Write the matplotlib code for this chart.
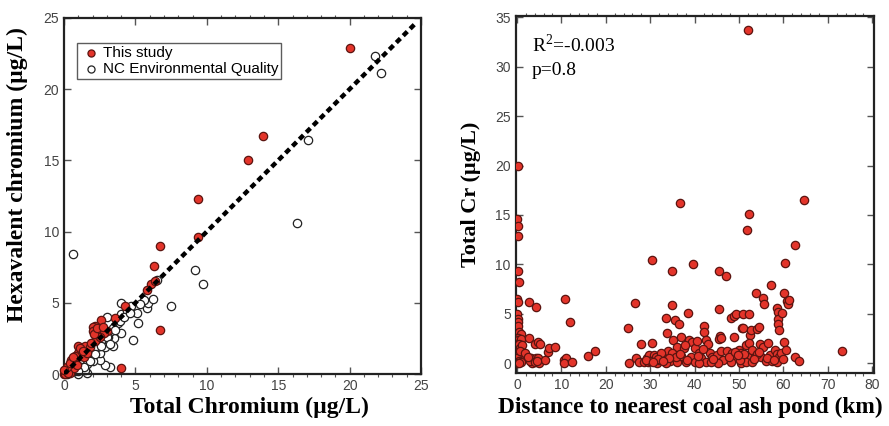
"""Chromium scatter plots: Cr(VI) vs total Cr, and total Cr vs distance."""

from matplotlib import pyplot
from matplotlib.ticker import MultipleLocator

pyplot.rcParams['mathtext.fontset'] = 'custom'
pyplot.rcParams['mathtext.rm'] = 'Liberation Serif'

# Left panel: hexavalent vs total chromium (ug/L)
study_total = [20.0, 13.9, 12.9, 9.4, 9.4, 6.7, 6.3, 6.1, 5.8, 6.4, 6.7, 4.3,
               3.6, 2.6, 2.2, 2.0, 2.0, 2.4, 4.0, 1.0, 1.5, 1.0, 0.6, 0.3, 0.1,
               0.0, 0.2, 0.5, 0.8, 1.2, 1.8, 2.2, 3.0, 2.8, 0.4, 0.7, 1.4, 0.1,
               0.3, 0.9, 1.6, 2.5, 0.2, 0.5, 0.8, 1.1, 1.3, 2.1, 2.3, 0.0, 0.4,
               0.6, 1.9, 2.7]
study_hex = [22.9, 16.7, 15.0, 12.3, 9.6, 9.0, 7.6, 6.3, 5.9, 6.5, 3.1, 4.8,
             3.9, 3.8, 3.4, 3.3, 3.0, 3.1, 0.4, 2.0, 2.0, 1.5, 1.0, 0.5, 0.3,
             0.0, 0.2, 0.7, 0.9, 1.3, 1.9, 2.3, 3.0, 2.9, 0.1, 0.4, 1.2, 0.0,
             0.1, 0.6, 1.5, 2.6, 0.5, 1.0, 1.3, 1.8, 1.6, 2.8, 3.2, 0.3, 0.8,
             1.2, 2.2, 3.3]

nc_total = [22.2, 21.8, 17.1, 16.3, 9.2, 9.7, 0.6, 7.5, 5.8, 5.9, 5.6, 6.5,
            5.2, 4.8, 5.1, 4.7, 4.0, 4.0, 4.0, 3.6, 3.5, 3.4, 3.0, 3.2, 2.9,
            2.5, 2.5, 1.6, 1.5, 1.0, 3.3, 2.8, 2.2, 1.8, 1.3, 0.9, 0.5, 2.0,
            2.7, 3.1, 1.2, 0.8, 2.4, 1.9, 0.7, 3.8, 4.4, 3.4, 3.9, 4.2, 2.6,
            2.3, 2.1, 1.7, 1.4, 1.1, 0.4, 0.3, 0.2, 1.9, 1.6, 3.0, 2.9, 4.6,
            3.6, 2.0, 1.2, 0.6, 2.6, 3.2, 0.9, 1.4, 2.2, 5.3, 6.2, 1.0, 1.8]
nc_hex = [21.1, 22.3, 16.4, 10.6, 7.3, 6.3, 8.4, 4.8, 4.6, 5.0, 5.2, 6.6,
          3.6, 2.4, 4.3, 4.8, 4.2, 5.0, 2.9, 3.4, 2.5, 2.0, 4.0, 0.5, 0.6,
          1.0, 1.5, 0.1, 0.3, 0.0, 3.0, 2.4, 2.0, 1.5, 1.0, 0.6, 0.3, 1.7,
          2.8, 2.6, 0.8, 0.2, 2.2, 1.2, 0.4, 3.6, 4.4, 3.2, 3.7, 4.0, 2.3,
          1.9, 1.8, 1.3, 1.2, 0.8, 0.2, 0.1, 0.0, 1.0, 0.7, 2.6, 1.9, 4.3,
          3.1, 0.9, 0.5, 0.3, 2.0, 2.1, 0.4, 0.5, 1.4, 4.9, 5.3, 0.2, 0.9]

# Right panel: total Cr vs distance to nearest coal ash pond (km)
distance = [0.3, 0.1, 0.2, 0.2, 0.3, 0.4, 0.1, 0.3, 0.1, 0.2, 0.2, 0.3, 0.5,
            0.8, 0.2, 0.3, 0.6, 0.9, 0.4, 0.6, 0.3, 0.8, 0.1, 0.5, 0.1, 1.0,
            0.5, 1.2, 0.7,
            2.6, 4.2, 2.7, 4.0, 4.8, 5.3, 1.8, 3.2, 3.5, 4.2, 4.8, 3.0, 4.0,
            5.0, 6.3, 7.0, 7.3, 8.5, 4.6, 2.5,
            10.8, 12.0, 10.5, 11.0, 10.7, 12.3, 16.0, 17.5,
            25.0, 26.5, 25.2, 26.8, 28.0, 27.5, 28.5, 29.5, 29.2, 29.8, 30.3,
            30.5, 30.8, 31.2, 30.0, 31.5, 32.0,
            33.5, 33.8, 34.0, 33.0, 32.5, 34.9, 34.9, 35.5, 36.5, 35.2, 36.0,
            35.0, 34.5, 36.0, 36.7, 37.0, 37.5, 37.0, 38.0, 38.5, 38.8, 39.6,
            39.5, 40.0, 39.2, 40.0, 35.8, 33.6, 34.2,
            40.5, 41.0, 41.5, 42.0, 42.0, 42.5, 43.0, 42.5, 43.5, 44.0, 44.5,
            45.0, 45.5, 45.5, 45.7, 45.5, 46.0, 46.0, 46.5, 47.0, 47.2, 45.2,
            43.8, 41.0,
            48.3, 48.8, 49.3, 48.8, 48.5, 49.5, 48.2, 50.0, 50.5, 50.6, 51.0,
            51.0, 51.5, 52.0, 50.5, 51.5, 51.7, 52.3, 52.1, 52.3, 52.5, 52.7,
            52.3, 53.0, 53.5, 53.0, 53.8, 54.0, 54.6, 54.8, 55.4, 55.7, 55.5,
            55.0, 56.0, 56.5, 57.3, 57.0, 57.5, 54.0,
            58.5, 58.8, 58.8, 58.8, 59.0, 59.6, 58.0, 58.5, 59.0, 58.6, 59.5,
            60.2, 60.1, 60.4, 60.8, 61.0, 61.3, 60.5, 62.5, 62.6, 63.5, 64.7,
            73.1,
            29.0, 31.8, 32.8, 36.8, 38.3, 40.8, 41.8, 44.2, 47.8, 49.0, 50.2,
            51.2, 53.3, 54.5, 56.3, 57.8, 59.8, 30.6, 37.8, 49.8]
total_cr = [20.0, 14.6, 13.9, 12.9, 9.3, 8.2, 6.5, 6.2, 5.0, 4.5, 4.2, 3.8,
            3.2, 3.0, 2.6, 2.4, 2.2, 2.5, 1.9, 1.5, 1.0, 0.9, 0.5, 0.2, 0.0,
            0.1, 0.0, 1.8, 1.2,
            6.2, 5.7, 2.6, 2.0, 2.2, 2.0, 1.0, 0.5, 0.0, 0.5, 0.5, 0.2, 0.1,
            0.0, 0.3, 1.1, 1.5, 1.6, 0.2, 0.6,
            6.5, 4.2, 0.3, 0.5, 0.0, 0.1, 0.7, 1.2,
            3.6, 6.1, 0.0, 0.5, 1.9, 0.1, 0.1, 0.1, 0.5, 0.8, 10.4,
            2.1, 0.8, 0.6, 0.2, 0.0, 0.3,
            4.6, 3.1, 1.2, 0.4, 1.0, 9.3, 5.9, 4.4, 4.0, 2.4, 1.6,
            1.0, 0.2, 0.1, 16.2, 2.7, 1.5, 0.7, 0.1, 5.1, 2.4, 10.0,
            2.2, 1.5, 0.6, 0.1, 0.6, 0.0, 0.5,
            2.3, 1.0, 0.5, 3.8, 3.2, 2.4, 2.0, 0.1, 1.0, 0.6, 0.2,
            0.8, 9.3, 5.5, 2.8, 2.5, 2.6, 1.2, 0.3, 8.8, 1.2, 0.0,
            0.1, 0.0,
            4.6, 4.8, 5.0, 2.7, 1.0, 0.5, 0.1, 1.3, 1.0, 3.6, 3.6,
            5.0, 1.8, 0.6, 0.0, 0.1, 13.5, 15.1, 33.7, 5.0, 2.9, 3.4,
            2.1, 1.3, 0.6, 0.1, 7.1, 3.5, 3.7, 2.0, 6.6, 6.0, 1.6,
            0.6, 0.2, 2.1, 7.9, 0.8, 0.2, 0.9,
            5.6, 5.2, 4.5, 4.0, 3.4, 5.1, 1.3, 0.9, 0.6, 0.1, 1.0,
            2.2, 7.1, 10.1, 6.3, 6.0, 6.4, 1.3, 12.0, 0.6, 0.2, 16.5,
            1.2,
            0.3, 0.4, 0.2, 0.9, 0.3, 0.7, 1.4, 0.4, 0.6, 1.1, 0.3,
            0.9, 0.4, 1.1, 0.5, 0.3, 0.4, 0.1, 1.8, 0.8]

RED = '#e3342a'
EDGE = '#5b1410'
TICK_COLOR = '#555555'
MARKER_SIZE = 36


def style_axes(ax, x_minor):
    """Inward major ticks on all sides, outward minor ticks on x."""
    for spine in ax.spines.values():
        spine.set_linewidth(1.6)
        spine.set_color('#222222')
    ax.xaxis.set_minor_locator(MultipleLocator(x_minor))
    ax.tick_params(which='major', direction='in', length=5, width=1,
                   top=True, right=True, colors=TICK_COLOR,
                   labelsize=10, labelcolor='#444444')
    ax.tick_params(axis='x', which='minor', direction='out', length=2.5,
                   width=0.8, top=True, bottom=True, colors=TICK_COLOR)
    for lab in ax.get_xticklabels() + ax.get_yticklabels():
        lab.set_family('Liberation Sans')


fig = pyplot.figure(figsize=(8.89, 4.26), dpi=100)

# ---- left panel
ax1 = fig.add_axes([0.072, 0.122, 0.4016, 0.836])
ax1.scatter(nc_total, nc_hex, s=MARKER_SIZE, facecolor='white',
            edgecolor='#222222', linewidth=0.9, zorder=2, clip_on=False,
            label='NC Environmental Quality')
ax1.scatter(study_total, study_hex, s=MARKER_SIZE, facecolor=RED,
            edgecolor=EDGE, linewidth=0.9, zorder=3, clip_on=False,
            label='This study')
ax1.plot([0, 24.6], [0, 24.6], color='black', linestyle=(0, (1.3, 0.9)),
         linewidth=3.2, dash_capstyle='butt', zorder=4)
ax1.set_xlim(0, 25)
ax1.set_ylim(0, 25)
ax1.xaxis.set_major_locator(MultipleLocator(5))
ax1.yaxis.set_major_locator(MultipleLocator(5))
style_axes(ax1, 1)
ax1.set_xlabel('Total Chromium (\u00b5g/L)', family='Liberation Serif',
               fontweight='bold', fontsize=17)
ax1.xaxis.set_label_coords(0.52, -0.065)
ax1.set_ylabel('Hexavalent chromium (\u00b5g/L)', family='Liberation Serif',
               fontweight='bold', fontsize=17)
ax1.yaxis.set_label_coords(-0.1, 0.56)
handles, labels = ax1.get_legend_handles_labels()
leg = ax1.legend(handles[::-1], labels[::-1], loc='upper left',
                 bbox_to_anchor=(0.036, 0.93), frameon=True,
                 fancybox=False, edgecolor='#333333', handletextpad=0.1,
                 handlelength=1.4, borderpad=0.2, labelspacing=0.15,
                 markerscale=0.85, borderaxespad=0,
                 prop={'family': 'Liberation Sans', 'size': 11})
leg.get_frame().set_linewidth(1.0)

# ---- right panel
ax2 = fig.add_axes([0.580, 0.124, 0.4027, 0.838])
ax2.scatter(distance, total_cr, s=MARKER_SIZE, facecolor=RED, edgecolor=EDGE,
            linewidth=0.9, zorder=3)
ax2.set_xlim(-0.3, 80.3)
ax2.set_ylim(-1, 35.1)
ax2.xaxis.set_major_locator(MultipleLocator(10))
ax2.yaxis.set_major_locator(MultipleLocator(5))
style_axes(ax2, 2)
ax2.set_xlabel('Distance to nearest coal ash pond (km)',
               family='Liberation Serif', fontweight='bold', fontsize=16.8)
ax2.xaxis.set_label_coords(0.489, -0.065)
ax2.set_ylabel('Total Cr (\u00b5g/L)', family='Liberation Serif',
               fontweight='bold', fontsize=16, labelpad=10)
ax2.text(0.045, 0.919, r'R$^{\mathrm{2}}$=-0.003', transform=ax2.transAxes,
         family='Liberation Serif', fontsize=14, va='center')
ax2.text(0.045, 0.849, 'p=0.8', transform=ax2.transAxes,
         family='Liberation Serif', fontsize=14, va='center')

fig.savefig('out.png', dpi=100)
